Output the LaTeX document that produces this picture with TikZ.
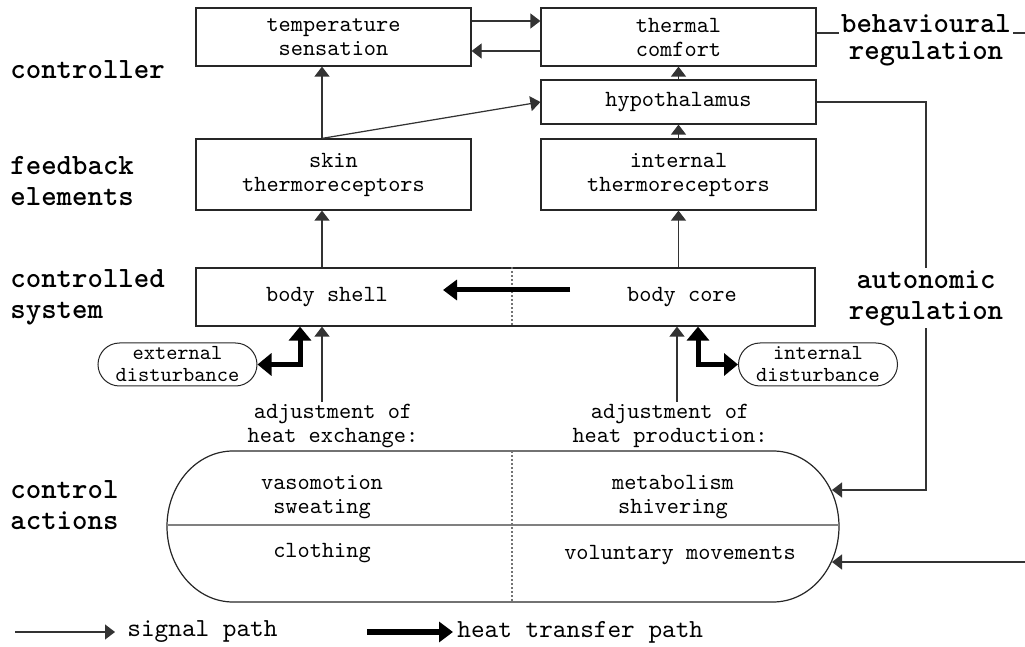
\documentclass[tikz,border=0pt]{standalone}
\usepackage{fontspec}
\setmonofont{lmmono10-regular.otf}[BoldFont=lmmonolt10-bold.otf]
\usetikzlibrary{arrows.meta,calc,shapes.misc}

\newcommand{\boxfont}{\ttfamily\fontsize{11.6}{12}\selectfont}
\newcommand{\levelfont}{\ttfamily\bfseries\fontsize{14.7}{15.5}\selectfont}

\tikzset{
  block/.style={draw=black!85, line width=0.6pt, minimum width=137.5pt,
    font=\boxfont, align=center, inner sep=1pt},
  disturb/.style={draw=black!85, line width=0.5pt, rounded rectangle,
    minimum width=80.5pt, minimum height=21.5pt, inner sep=0.5pt,
    font=\ttfamily\fontsize{10.7}{11}\selectfont, align=center},
  txt/.style={font=\boxfont, align=center, inner sep=1pt},
  level/.style={font=\levelfont, align=left, inner sep=1pt},
  sig/.style={draw=black!80, line width=0.6pt,
    -{Triangle[width=7.5pt,length=5pt]}},
  line/.style={draw=black!80, line width=0.6pt},
  heat/.style={draw=black, line width=2.5pt,
    -{Triangle[width=10pt,length=7pt]}},
  divider/.style={draw=black!55, line width=1pt, densely dotted},
}

\begin{document}
\begin{tikzpicture}[x=0.5pt, y=-0.5pt]
    \useasboundingbox (0,0) rectangle (1025,647);

    % Levels
    \node[level, anchor=west] (lctrl) at (8,70) {controller};
    \node[level, anchor=west] (lfeed) at (8,181) {feedback\\elements};
    \node[level, anchor=west] (lsys) at (8,297) {controlled\\system};
    \node[level, anchor=west] (lact) at (8,505) {control\\actions};

    % Boxes
    \node[block, minimum height=29pt] (temp) at (333.5,37) {temperature\\sensation};
    \node[block, minimum height=29pt] (comfort) at (678.5,37) {thermal\\comfort};
    \node[block, minimum height=22pt] (hypo) at (678.5,102) {hypothalamus};
    \node[block, minimum height=35.5pt] (skin) at (333.5,174.5) {skin\\thermoreceptors};
    \node[block, minimum height=35.5pt] (inter) at (678.5,174.5) {internal\\thermoreceptors};
    \node[block, minimum width=309.5pt, minimum height=29pt] (body) at (505.5,297) {};
    \node[txt] (shell) at (327,297) {body shell};
    \node[txt] (core) at (682,297) {body core};
    \draw[divider] ([xshift=3.25pt]body.north) -- ([xshift=3.25pt]body.south);

    % Columns
    \coordinate (lcol) at (322,0);
    \coordinate (rcol) at (677,0);

    % Signal paths
    \draw[sig] ([yshift=8pt]temp.east) -- ([yshift=8pt]comfort.west);
    \draw[sig] ([yshift=-7pt]comfort.west) -- ([yshift=-7pt]temp.east);
    \draw[sig] (skin.north -| lcol) -- (temp.south -| lcol);
    \draw[sig] (skin.north -| lcol) -- (hypo.west);
    \draw[sig] (body.north -| lcol) -- (skin.south -| lcol);
    \draw[sig] (hypo.north) -- (comfort.south);
    \draw[sig] (inter.north) -- (hypo.south);
    \draw[sig] (body.north -| inter.south) -- (inter.south);

    % Behavioural regulation
    \node[level, anchor=base, inner xsep=1pt] (behav) at (926,33) {behavioural};
    \node[level] (behavreg) at (926,54) {regulation};
    \coordinate (edgeT) at (1025,33);
    \draw[line] (comfort.east |- behav.base) -- (behav.base west);
    \draw[line] (behav.base east) -- (edgeT);

    % Disturbances
    \node[disturb] (ext) at (177.5,364.5) {external\\disturbance};
    \node[disturb] (int) at (818,364.5) {internal\\disturbance};
    \coordinate (extx) at (300,0);
    \coordinate (intx) at (698,0);
    \draw[heat, {Triangle[width=11pt,length=7pt]}-{Triangle[width=11pt,length=7pt]}]
        (ext.east) -| (body.south -| extx);
    \draw[heat, {Triangle[width=11pt,length=7pt]}-{Triangle[width=11pt,length=7pt]}]
        (body.south -| intx) |- (int.west);

    % Heat transfer core -> shell
    \coordinate (hs) at (570,290);
    \coordinate (he) at (443,290);
    \draw[heat] (hs) -- (he);

    % Adjustments
    \node[txt] (adjX) at (333,426) {adjustment of\\heat exchange:};
    \node[txt] (adjP) at (670,426) {adjustment of\\heat production:};
    \draw[sig] (adjX.north -| lcol) -- (body.south -| lcol);
    \draw[sig] (adjP.north -| rcol) -- (body.south -| rcol);

    % Control actions
    \draw[draw=black!85, line width=0.6pt] (233,451) -- (773,451)
        arc[start angle=-90, end angle=90, x radius=66, y radius=75.5]
        -- (233,602)
        arc[start angle=90, end angle=270, x radius=66, y radius=75.5] -- cycle;
    \coordinate (actL) at (167,525);
    \coordinate (actR) at (839,525);
    \draw[draw=black!50, line width=0.6pt] (actL) -- (actR);
    \coordinate (actT) at (512,451);
    \coordinate (actB) at (512,602);
    \draw[divider] (actT) -- (actB);
    \node[txt] (vaso) at (322,497) {vasomotion\\sweating};
    \node[txt] (cloth) at (322,553) {clothing};
    \node[txt] (meta) at (673,497) {metabolism\\shivering};
    \node[txt] (volun) at (680,555) {voluntary movements};

    % Autonomic regulation
    \node[level, align=center] (auto) at (926,298) {autonomic\\regulation};
    \coordinate (autoin) at (832,490);
    \coordinate (volin) at (832,562);
    \coordinate (edgeB) at (1025,562);
    \draw[line] (hypo.east) -| (auto.north);
    \draw[sig] (auto.south) |- (autoin);
    \draw[sig] (edgeB) -- (volin);

    % Legend
    \coordinate (sigstart) at (15,632);
    \node[txt, anchor=west, inner xsep=6pt, font=\ttfamily\fontsize{13}{13}\selectfont] (siglab) at (115,632) {signal path};
    \draw[sig] (sigstart) -- (siglab.west);
    \coordinate (heatstart) at (367,632);
    \node[txt, anchor=west, inner xsep=2pt, font=\ttfamily\fontsize{13}{13}\selectfont] (heatlab) at (453,632) {heat transfer path};
    \draw[heat, line width=3pt] (heatstart) -- (heatlab.west);
\end{tikzpicture}
\end{document}
